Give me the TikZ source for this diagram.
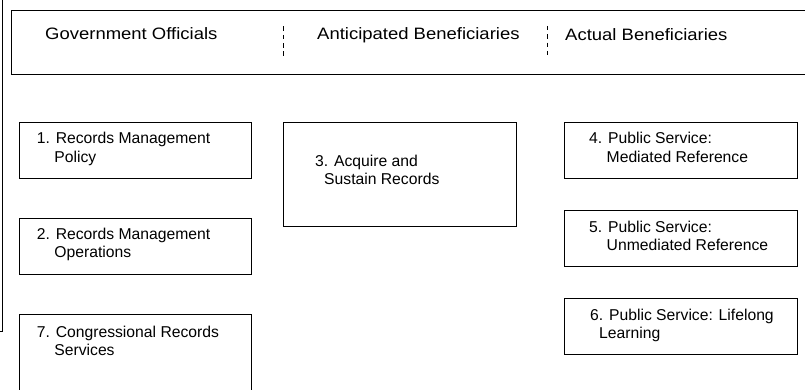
\documentclass[tikz,border=0pt]{standalone}
\usepackage{fontspec}
\setmainfont{Liberation Sans}
\newfontfamily\headfont{Liberation Sans}[FakeStretch=1.12]
\usetikzlibrary{calc}

\begin{document}
\begin{tikzpicture}[x=1pt,y=-1pt]
	\tikzstyle{box}=[draw, line width=1.2pt, anchor=north west, inner sep=0pt, minimum width=232pt, minimum height=56pt]
	\tikzstyle{item}=[anchor=base west, inner sep=0pt, align=left, font=\fontsize{15.7}{18.3}\selectfont]
	\tikzstyle{head}=[anchor=base west, inner sep=0pt, font=\headfont\fontsize{16.5}{19}\selectfont]
	\tikzstyle{divider}=[line width=0.9pt, dash pattern=on 4.5pt off 3.8pt]

	\useasboundingbox (0,0) rectangle (805,390);
	\clip (0,0) rectangle (805,390);

	% header band
	\node (Hd) [box, minimum width=820pt, minimum height=64pt] at (11,10) {};
	\node (GO) [head] at ($(Hd.north west) + (34, 30)$) {Government Officials};
	\node (AB) [head] at ($(Hd.north west) + (306, 30)$) {Anticipated Beneficiaries};
	\node (AC) [head] at ($(Hd.north west) + (554, 30.5)$) {Actual Beneficiaries};
	\draw [divider] ($(Hd.north west) + (272, 16.5)$) -- ($(Hd.north west) + (272, 48)$);
	\draw [divider] ($(Hd.north west) + (536, 16)$) -- ($(Hd.north west) + (536, 48)$);

	\draw [line width=1.5pt] (2.5,-2) -- (2.5,331.5) -- (-2,331.5);

	% government officials (base = last line)
	\node (P1) [box] at (19,122) {};
	\node (P2) [box] at (19,218) {};
	\node (P7) [box, minimum height=100pt] at (19,314) {};
	\node (t1) [item] at ($(P1.north west) + (17.7, 40.3)$) {1. Records Management\\\hspace*{17.5pt}Policy};
	\node (t2) [item] at ($(P2.north west) + (17.7, 39.8)$) {2. Records Management\\\hspace*{17.5pt}Operations};
	\node (t7) [item] at ($(P7.north west) + (17.7, 41.6)$) {7. Congressional Records\\\hspace*{17.5pt}Services};

	% anticipated beneficiaries
	\node (P3) [box, minimum width=233pt, minimum height=104pt] at (283,122) {};
	\node (t3) [item] at ($(P3.north west) + (32, 63)$) {3. Acquire and\\\hspace*{9pt}Sustain Records};

	% actual beneficiaries
	\node (P4) [box, minimum width=233pt] at (564,122) {};
	\node (P5) [box, minimum width=233pt] at (564,210) {};
	\node (P6) [box, minimum width=233pt] at (564,298) {};
	\node (t4) [item] at ($(P4.north west) + (25, 40.3)$) {4. Public Service:\\\hspace*{17.5pt}Mediated Reference};
	\node (t5) [item] at ($(P5.north west) + (25, 40.3)$) {5. Public Service:\\\hspace*{17.5pt}Unmediated Reference};
	\node (t6) [item] at ($(P6.north west) + (26, 40.3)$) {6. Public Service: Lifelong\\\hspace*{9pt}Learning};
\end{tikzpicture}
\end{document}
